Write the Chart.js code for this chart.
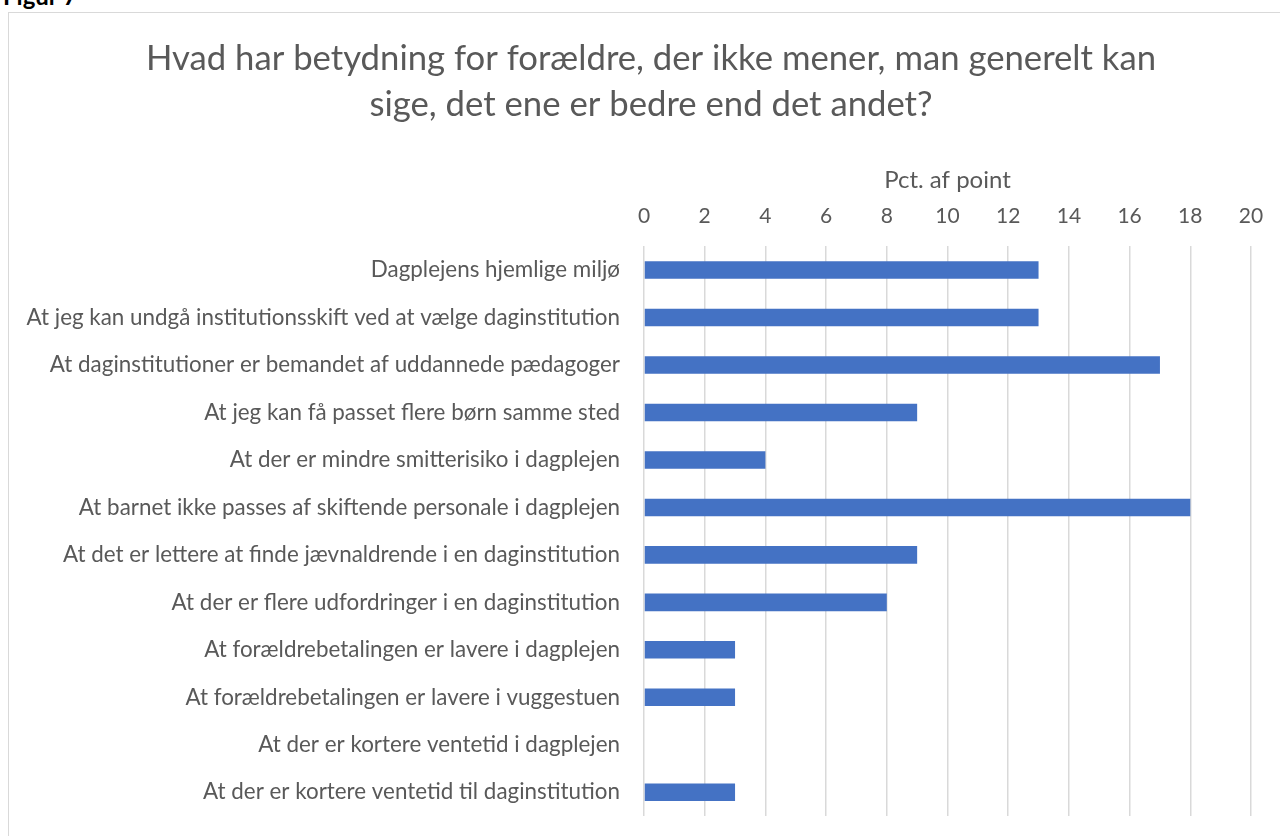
<!DOCTYPE html>
<html>
<head>
<meta charset="utf-8">
<script src="https://cdn.jsdelivr.net/npm/chart.js@4/dist/chart.umd.min.js"></script>
<style>
  html, body { margin: 0; padding: 0; background: #fff; overflow: hidden; }
  #fig { position: absolute; left: 3px; top: -19px; font: bold 24px "Lato", sans-serif; color: #000; }
  #box { position: absolute; left: 8px; top: 12px; width: 1272px; height: 824px;
         border-left: 1px solid #d9d9d9; border-top: 1px solid #d9d9d9; box-sizing: border-box; }
  #wrap { position: absolute; left: 8px; top: 12px; width: 1272px; height: 824px; }
</style>
</head>
<body>
<div id="fig">Figur 7</div>
<div id="box"></div>
<div id="wrap"><canvas id="c"></canvas></div>
<script>
const chartTitle = ["Hvad har betydning for forældre, der ikke mener, man generelt kan", "sige, det ene er bedre end det andet?"];
const axisTitle = "Pct. af point";
const categories = [
  "Dagplejens hjemlige miljø",
  "At jeg kan undgå institutionsskift ved at vælge daginstitution",
  "At daginstitutioner er bemandet af uddannede pædagoger",
  "At jeg kan få passet flere børn samme sted",
  "At der er mindre smitterisiko i dagplejen",
  "At barnet ikke passes af skiftende personale i dagplejen",
  "At det er lettere at finde jævnaldrende i en daginstitution",
  "At der er flere udfordringer i en daginstitution",
  "At forældrebetalingen er lavere i dagplejen",
  "At forældrebetalingen er lavere i vuggestuen",
  "At der er kortere ventetid i dagplejen",
  "At der er kortere ventetid til daginstitution"
];
const values = [13, 13, 17, 9, 4, 18, 9, 8, 3, 3, 0, 3];
const xMin = 0, xMax = 20, xStep = 2;

const FONT = "Lato";
const GREY = "#595959";

// let the category labels extend into the left padding without being clipped
const unclipLabels = {
  id: "unclipLabels",
  afterLayout(chart) { chart.scales.y.left = 0; }
};

new Chart(document.getElementById("c"), {
  type: "bar",
  data: {
    labels: categories,
    datasets: [{
      data: values,
      backgroundColor: "#4472C4",
      borderWidth: 0,
      barPercentage: 0.37,
      categoryPercentage: 1.0
    }]
  },
  plugins: [unclipLabels],
  options: {
    indexAxis: "y",
    responsive: true,
    maintainAspectRatio: false,
    animation: false,
    layout: { padding: { left: 43, right: 29, top: 0, bottom: 20 } },
    plugins: {
      legend: { display: false },
      tooltip: { enabled: false },
      title: {
        display: true,
        text: chartTitle,
        color: GREY,
        font: { family: FONT, size: 34.7, weight: "normal", lineHeight: 1.33 },
        padding: { top: 24, bottom: 0 }
      }
    },
    scales: {
      x: {
        position: "top",
        min: xMin, max: xMax,
        ticks: { stepSize: xStep, color: GREY, font: { family: FONT, size: 21 }, padding: 17 },
        grid: { color: "#d9d9d9", lineWidth: 1.5, drawTicks: false },
        border: { display: false },
        title: { display: true, text: axisTitle, color: GREY, font: { family: FONT, size: 24 }, padding: { top: 38, bottom: 0 } },
        afterFit: (s) => { s.height = 118; s.paddingLeft = 0; s.paddingRight = 0; }
      },
      y: {
        ticks: { color: GREY, font: { family: FONT, size: 22.4 }, padding: 24, autoSkip: false },
        grid: { display: false, drawTicks: false },
        border: { display: false },
        afterFit: (s) => { s.width = 593; s.paddingTop = 0; s.paddingBottom = 0; }
      }
    }
  }
});
</script>
</body>
</html>
